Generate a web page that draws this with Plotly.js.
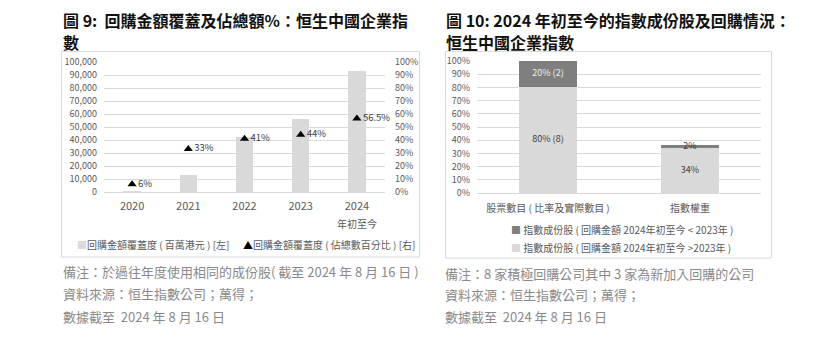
<!DOCTYPE html>
<html><head><meta charset="utf-8">
<script src="https://cdn.plot.ly/plotly-3.0.1.min.js"></script>
<style>html,body{margin:0;padding:0;background:#fff}#chart{width:826px;height:350px}</style>
</head><body><div id="chart"></div>
<script>
const W = 826, H = 350;
const px = x => x / W, py = y => 1 - y / H;
const FONT = '"Noto Sans CJK TC", "Noto Sans", sans-serif';

// ---- Figure 9 data ----
const years = ['2020', '2021', '2022', '2023', '2024'];
const ytdNote = '年初至今';                                      // under the 2024 label
const buybackAmount = [1000, 12800, 42300, 56000, 93000];       // 百萬港元
const buybackPct = [0.06, 0.33, 0.41, 0.44, 0.565];             // 佔總數百分比
const buybackPctLabels = ['6%', '33%', '41%', '44%', '56.5%'];

// ---- Figure 10 data ----
const groups = ['股票數目 ( 比率及實際數目 )', '指數權重'];
const aboveShare = [0.80, 0.34];   // 回購金額 2024年初至今 > 2023年
const belowShare = [0.20, 0.02];   // 回購金額 2024年初至今 < 2023年
const aboveLabels = ['80% (8)', '34%'];
const belowLabels = ['20% (2)', '2%'];

const tickCol = '#595959', gridCol = '#d9d9d9', light = '#d9d9d9', dark = '#7f7f7f';

const traces = [
  { type: 'bar', x: years, y: buybackAmount, xaxis: 'x', yaxis: 'y', width: 0.31,
    marker: { color: light }, showlegend: false, hoverinfo: 'skip' },
  { type: 'scatter', mode: 'markers+text', x: years, y: buybackPct, xaxis: 'x', yaxis: 'y2',
    marker: { symbol: 'triangle-up', size: 8, color: '#000' },
    text: buybackPctLabels, textposition: 'middle right',
    textfont: { family: FONT, size: 9.5, color: '#404040' }, showlegend: false, cliponaxis: false },
  { type: 'bar', x: groups, y: aboveShare, xaxis: 'x2', yaxis: 'y3', width: 0.41,
    marker: { color: light }, showlegend: false },
  { type: 'bar', x: groups, y: belowShare, xaxis: 'x2', yaxis: 'y3', width: 0.41,
    marker: { color: dark }, showlegend: false },
  { type: 'scatter', mode: 'text', x: groups, y: aboveShare.map(v => v / 2), xaxis: 'x2', yaxis: 'y3',
    text: aboveLabels, textfont: { family: FONT, size: 9, color: '#404040' }, showlegend: false, hoverinfo: 'skip' },
  { type: 'scatter', mode: 'text', x: groups, y: aboveShare.map((v, i) => v + belowShare[i] / 2), xaxis: 'x2', yaxis: 'y3',
    text: belowLabels, textfont: { family: FONT, size: 9, color: ['#eeeeee', '#404040'] }, showlegend: false, hoverinfo: 'skip' }
];

const yAxisBase = { showline: false, ticks: '', gridcolor: gridCol, gridwidth: 1,
  zeroline: true, zerolinecolor: gridCol, zerolinewidth: 1,
  tickfont: { family: FONT, size: 9, color: tickCol }, fixedrange: true };

const note = (x, y, text) => ({ xref: 'paper', yref: 'paper', x: px(x), y: py(y), xanchor: 'left', yanchor: 'middle',
  showarrow: false, text, font: { family: FONT, size: 13, color: '#8a8a8a' } });
const title = (x, y, text) => ({ xref: 'paper', yref: 'paper', x: px(x), y: py(y), xanchor: 'left', yanchor: 'middle',
  showarrow: false, text, font: { family: FONT, size: 16, color: '#111', weight: 'bold' } });

const layout = {
  width: W, height: H, margin: { l: 0, r: 0, t: 0, b: 0 },
  paper_bgcolor: '#fff', plot_bgcolor: 'rgba(0,0,0,0)',
  barmode: 'stack', showlegend: false,
  font: { family: FONT },
  xaxis: { domain: [px(104), px(385)], anchor: 'y', type: 'category', range: [-0.5, years.length - 0.5],
    showline: false, ticks: '', tickfont: { family: FONT, size: 11, color: tickCol }, ticklabelstandoff: 6 },
  yaxis: Object.assign({}, yAxisBase, { domain: [py(192), py(62)], anchor: 'x', range: [0, 100000],
    dtick: 10000, tickformat: ',', ticklabelstandoff: 6 }),
  yaxis2: Object.assign({}, yAxisBase, { overlaying: 'y', side: 'right', anchor: 'x', range: [0, 1],
    dtick: 0.1, tickformat: '.0%', showgrid: false, zeroline: false, ticklabelstandoff: 9 }),
  xaxis2: { domain: [px(477), px(761)], anchor: 'y3', type: 'category', range: [-0.5, groups.length - 0.5],
    showline: false, ticks: '', tickfont: { family: FONT, size: 10, color: tickCol }, ticklabelstandoff: 8 },
  yaxis3: Object.assign({}, yAxisBase, { domain: [py(193), py(61)], anchor: 'x2', range: [0, 1],
    dtick: 0.1, tickformat: '.0%', ticklabelstandoff: 6 }),
  shapes: [
    { type: 'rect', xref: 'paper', yref: 'paper', x0: px(61.5), x1: px(419.5), y0: py(257), y1: py(51.5),
      line: { color: '#d9d9d9', width: 1 } },
    { type: 'rect', xref: 'paper', yref: 'paper', x0: px(445.5), x1: px(771.5), y0: py(258), y1: py(51.5),
      line: { color: '#d9d9d9', width: 1 } }
  ],
  annotations: [
    title(61, 20, '圖 9:  回購金額覆蓋及佔總額%：恒生中國企業指'),
    title(61, 42, '數'),
    title(444, 20, '圖 10: 2024 年初至今的指數成份股及回購情況：'),
    title(444, 42, '恒生中國企業指數'),
    // "年初至今" under the 2024 category label (category index of the last year)
    { xref: 'x', yref: 'paper', x: years.length - 1, y: py(223), xanchor: 'center', yanchor: 'middle',
      showarrow: false, text: ytdNote, font: { family: FONT, size: 10, color: tickCol } },
    // legends
    { xref: 'paper', yref: 'paper', x: px(246), y: py(244), xanchor: 'center', yanchor: 'middle', showarrow: false,
      text: '<span style="color:#d9d9d9">■</span>回購金額覆蓋度 ( 百萬港元 ) [左]      <span style="color:#000">▲</span>回購金額覆蓋度 ( 佔總數百分比 ) [右]',
      font: { family: FONT, size: 10, color: tickCol } },
    { xref: 'paper', yref: 'paper', x: px(509), y: py(229), xanchor: 'left', yanchor: 'middle', showarrow: false,
      text: '<span style="color:#7f7f7f">■</span> 指數成份股 ( 回購金額 2024年初至今 < 2023年 )',
      font: { family: FONT, size: 10, color: tickCol } },
    { xref: 'paper', yref: 'paper', x: px(509), y: py(247), xanchor: 'left', yanchor: 'middle', showarrow: false,
      text: '<span style="color:#d9d9d9">■</span> 指數成份股 ( 回購金額 2024年初至今 >2023年 )',
      font: { family: FONT, size: 10, color: tickCol } },
    // notes
    note(61, 271, '備注：於過往年度使用相同的成份股( 截至 2024 年 8 月 16 日 )'),
    note(61, 293, '資料來源：恒生指數公司；萬得；'),
    note(61, 316, '數據截至  2024 年 8 月 16 日'),
    note(443, 273, '備注：8 家積極回購公司其中 3 家為新加入回購的公司'),
    note(443, 294, '資料來源：恒生指數公司；萬得；'),
    note(443, 316, '數據截至  2024 年 8 月 16 日')
  ]
};

Plotly.newPlot('chart', traces, layout, { displayModeBar: false, staticPlot: true });
</script></body></html>
